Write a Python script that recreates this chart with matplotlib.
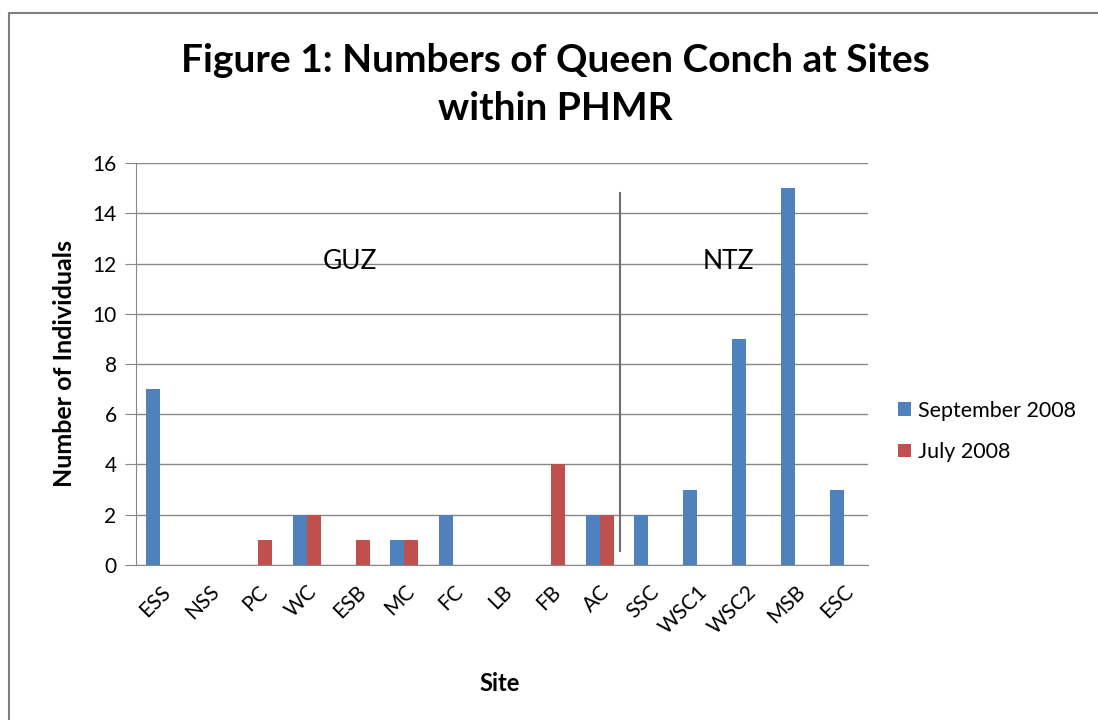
import numpy as np
import matplotlib.pyplot as plt
from matplotlib.patches import Rectangle

plt.rcParams['font.family'] = ['Lato', 'DejaVu Sans']

sites = ['ESS', 'NSS', 'PC', 'WC', 'ESB', 'MC', 'FC', 'LB', 'FB', 'AC',
         'SSC', 'WSC1', 'WSC2', 'MSB', 'ESC']
september = [7, 0, 0, 2, 0, 1, 2, 0, 0, 2, 2, 3, 9, 15, 3]
july = [0, 0, 1, 2, 1, 1, 0, 0, 4, 2, 0, 0, 0, 0, 0]

blue = '#4F81BD'
red = '#C0504D'
grid_col = '#878787'

fig = plt.figure(figsize=(10.98, 7.2), dpi=100)
# outer chart border (only left and top visible)
fig.patches.append(Rectangle((0.008, -0.1), 1.1, 1.082, transform=fig.transFigure,
                             fill=False, edgecolor='#808080', linewidth=1.5))

ax = fig.add_axes([0.1239, 0.2153, 0.6667, 0.5583])
x = np.arange(len(sites))
w = 0.287
ax.bar(x - w / 2, september, width=w, color=blue, label='September 2008', zorder=3)
ax.bar(x + w / 2, july, width=w, color=red, label='July 2008', zorder=3)

ax.set_xlim(-0.5, len(sites) - 0.5)
ax.set_ylim(0, 16)
ax.set_yticks(range(0, 17, 2))
ax.yaxis.grid(True, color=grid_col, linewidth=1)
ax.set_axisbelow(True)
for s in ['top', 'right']:
    ax.spines[s].set_visible(False)
ax.spines['left'].set_color(grid_col)
ax.spines['bottom'].set_color(grid_col)
ax.tick_params(axis='y', length=8, color=grid_col, labelsize=15, pad=6)
ax.tick_params(axis='x', length=0, labelsize=15, pad=12)
ax.set_xticks(x)
ax.set_xticklabels(sites, rotation=45, ha='right', rotation_mode='anchor')

# zone divider and labels
ax.plot([9.42, 9.42], [0.55, 14.8], color='#6e6e6e', linewidth=1.5, zorder=4)
ax.text(3.88, 12.06, 'GUZ', fontsize=19, ha='center', va='center')
ax.text(11.63, 12.06, 'NTZ', fontsize=19, ha='center', va='center')

ax.set_ylabel('Number of Individuals', fontsize=18, fontweight='bold', labelpad=12)
fig.text(0.4554, 0.051, 'Site', fontsize=17, fontweight='bold', ha='center', va='center')
fig.text(0.506, 0.882, 'Figure 1: Numbers of Queen Conch at Sites\nwithin PHMR',
         fontsize=28, fontweight='bold', ha='center', va='center', linespacing=1.45)

ax.legend(loc='center left', bbox_to_anchor=(0.818, 0.401), bbox_transform=fig.transFigure,
          frameon=False, fontsize=15.5, handlelength=0.6, handleheight=0.6,
          handletextpad=0.3, labelspacing=1.0, borderaxespad=0, borderpad=0)

fig.savefig('out.png', dpi=100)
